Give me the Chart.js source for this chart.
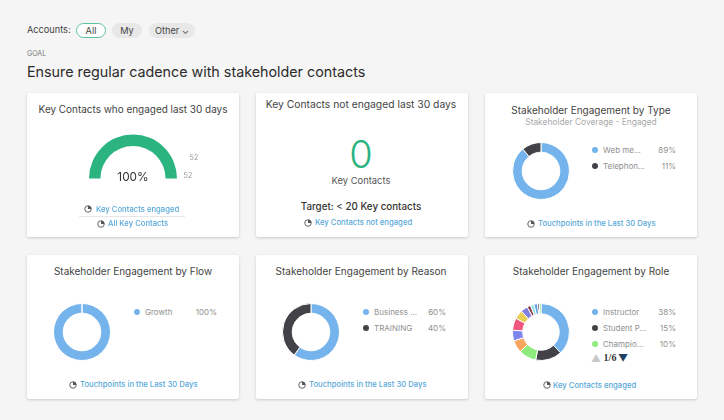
<!DOCTYPE html>
<html><head><meta charset="utf-8">
<script src="https://cdn.jsdelivr.net/npm/chart.js@4/dist/chart.umd.min.js"></script>
<style>
html,body{margin:0;padding:0;background:#f5f5f5;width:724px;height:420px;overflow:hidden;font-family:Inter,"Open Sans",sans-serif;color:#333}
.card{position:absolute;background:#fff;width:212px;height:144px;border-radius:2px;box-shadow:0 1px 3px rgba(0,0,0,.18)}
.t{position:absolute;white-space:nowrap;line-height:1;transform:translateY(-50%)}
.c{transform:translate(-50%,-50%)}
.r{transform:translate(-100%,-50%)}
.pill{position:absolute;border-radius:8px;background:#e8e8e8;height:15px;top:23px;font-size:9.2px;line-height:15px;text-align:center;color:#444}
canvas{position:absolute}
.dot{position:absolute;width:6px;height:6px;border-radius:50%}
svg.ic{position:absolute;width:8px;height:8px}
</style></head><body>
<script>
const reasonLabels=["Business ...","TRAINING"], reasonValues=[60,40];
const typeLabels=["Web me...","Telephon..."], typeValues=[89,11];
const flowLabels=["Growth"], flowValues=[100];
const roleLabels=["Instructor","Student P...","Champio..."];
const roleValues=[38,15,10,7,6,7,5,4,2,2,2,1,1];
const gaugeValues=[52,0];
const gaugeTicks=["52","52"];
const palette=["#74b3ec","#424248","#8eec7e","#f8a65e","#8086ec","#f0577f","#e6d055","#7f80e0","#8c3a48","#8fe8e6","#5f9fe0","#34343c","#7ee070"];
const green="#2bb380";

function el(cls,x,y,txt,style){const d=document.createElement('div');d.className=cls;d.style.left=x+'px';d.style.top=y+'px';
  if(txt!=null)d.textContent=txt;if(style)Object.assign(d.style,style);document.body.appendChild(d);return d;}
function text(x,y,txt,size,color,align,extra){return el('t'+(align?' '+align:''),x,y,txt,Object.assign({fontSize:size+'px',color:color||'#333'},extra||{}));}
function card(x,y){el('card',x,y);}
function icon(x,y){const s=document.createElementNS('http://www.w3.org/2000/svg','svg');s.setAttribute('class','ic');s.setAttribute('viewBox','0 0 16 16');
  s.style.left=x+'px';s.style.top=(y-4)+'px';
  s.innerHTML='<circle cx="8" cy="8" r="6.5" fill="none" stroke="#666" stroke-width="2"/><path d="M8 8V1.5A6.5 6.5 0 0 1 14.5 8Z" fill="#555"/>';document.body.appendChild(s);}
function link(x,y,txt,ix){text(x,y,txt,7.7,'#58a8d8',null,{fontWeight:500});icon(ix,y-0.5);}
function donut(cx,cy,r,cut,vals){const c=document.createElement('canvas');const s=2*r;c.style.left=(cx-r)+'px';c.style.top=(cy-r)+'px';c.style.width=s+'px';c.style.height=s+'px';c.width=s;c.height=s;document.body.appendChild(c);
  new Chart(c,{type:'doughnut',data:{datasets:[{data:vals,backgroundColor:palette,borderColor:'#fff',borderWidth:1}]},
   options:{responsive:false,animation:false,cutout:cut,plugins:{legend:{display:false},tooltip:{enabled:false}}}});}
function legend(dx,ys,labels,pcts,right){labels.forEach((l,i)=>{el('dot',dx-3,ys[i]-3,null,{background:palette[i]});
  text(dx+8,ys[i],l,8,'#8f8f8f');text(right,ys[i],pcts[i]+'%',8,'#8f8f8f','r');});}

text(27,30,'Accounts:',9.2,'#444');
el('pill',76,23,'All',{width:28+'px',background:'#fff',border:'1px solid #5fc0a6',lineHeight:'13px',height:'13px'});
el('pill',112,23,'My',{width:30+'px'});
el('pill',149,23,'Other ⌄',{width:46+'px'});
text(27,53,'GOAL',7,'#777');
text(27,72,'Ensure regular cadence with stakeholder contacts',14.3,'#2b2b2b');

[[27,93],[256,93],[485,93],[27,255],[256,255],[485,255]].forEach(p=>card(p[0],p[1]));

// card 1 gauge
text(133,109.5,'Key Contacts who engaged last 30 days',9.95,'#444','c');
(function(){const c=document.createElement('canvas');c.style.left='89px';c.style.top='134px';c.style.width='88px';c.style.height='45px';c.width=88;c.height=45;document.body.appendChild(c);
 new Chart(c,{type:'doughnut',data:{datasets:[{data:gaugeValues,backgroundColor:[green,'#e6e6e6'],borderWidth:0}]},
 options:{responsive:false,animation:false,rotation:-90,circumference:180,cutout:'74%',plugins:{legend:{display:false},tooltip:{enabled:false}}}});})();
text(133,177.5,'100%',11.8,'#333','c');
text(194,157.5,gaugeTicks[0],7.2,'#999','c');
text(188,176,gaugeTicks[1],7.2,'#999','c');
link(96,209.5,'Key Contacts engaged',84);
el('t',79,216,null,{width:106+'px',height:'1px',background:'#e6e6e6',transform:'none'});
link(108,224,'All Key Contacts',97);

// card 2
text(361,103.5,'Key Contacts not engaged last 30 days',10.3,'#444','c');
text(361,154,'0',38,green,'c',{fontWeight:300});
text(361,181,'Key Contacts',9.4,'#555','c');
text(361,206.5,'Target: < 20 Key contacts',9.8,'#333','c',{fontWeight:500});
link(315,223,'Key Contacts not engaged',304);

// card 3
text(591,109.5,'Stakeholder Engagement by Type',10,'#444','c');
text(591,122,'Stakeholder Coverage - Engaged',8.4,'#aaa','c');
donut(540.5,170.5,29,'66%',typeValues);
legend(595,[150,166],typeLabels,typeValues,676);
link(538,224,'Touchpoints in the Last 30 Days',527);

// card 4
text(133,271,'Stakeholder Engagement by Flow',10,'#444','c');
donut(82,332,29,'66%',flowValues);
legend(137,[311.5],flowLabels,flowValues,217);
link(80,385,'Touchpoints in the Last 30 Days',69);

// card 5
text(361,271,'Stakeholder Engagement by Reason',10,'#444','c');
donut(311,332,29,'66%',reasonValues);
legend(366,[311.5,327.5],reasonLabels,reasonValues,446);
link(309,385,'Touchpoints in the Last 30 Days',298);

// card 6
text(591,271,'Stakeholder Engagement by Role',10,'#444','c');
donut(540.5,332,29,'64%',roleValues);
legend(595,[311.5,327.5,343.5],roleLabels,roleValues,676);
text(596,358,'▲',10,'#c8c8c8','c');
text(610,358,'1/6',10,'#333','c',{fontFamily:'"Liberation Serif",serif',fontWeight:700});
text(623,357.5,'▼',10,'#1f3f64','c');
link(553,385.5,'Key Contacts engaged',543);
</script>
</body></html>
